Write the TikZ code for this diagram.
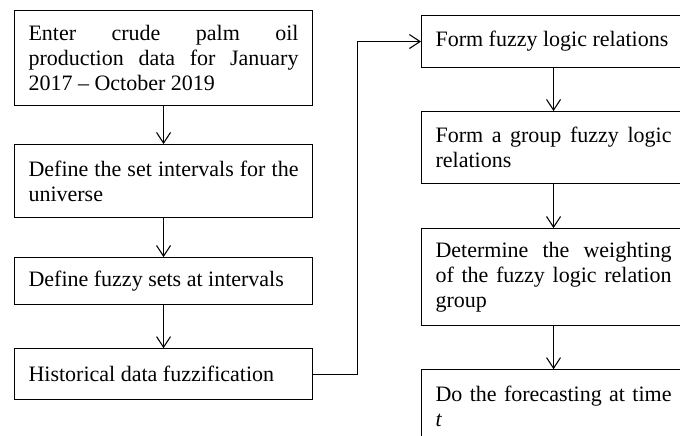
\documentclass[tikz,border=0pt]{standalone}
\usepackage{fontspec}
\setmainfont{Liberation Serif}
\usepackage{tikz}
\usetikzlibrary{arrows.meta, positioning}
\hyphenpenalty=10000
\tikzset{
  block/.style={
    rectangle, draw, line width=0.8pt, anchor=north,
    inner xsep=10.5pt, inner ysep=4pt, align=justify,
    font=\fontsize{16.5}{18.75}\selectfont
  },
  lft/.style={block, text width=202.5pt},
  rgt/.style={block, text width=177pt},
  arr/.style={-{Straight Barb[length=8pt,width=10.5pt]}, line width=0.8pt}
}
\begin{document}
\begin{tikzpicture}[node distance=29pt]
  \useasboundingbox (0,0) rectangle (510pt,-326.25pt);
  \clip (0,0) rectangle (510pt,-326.25pt);

  %% -- left column ------------------------------------------
  \node[lft, anchor=north west, minimum height=71.25pt] (entry) at (10.5pt,-7.5pt)
       {Enter crude palm oil\linebreak production data for January\linebreak 2017 -- October 2019};
  \node[lft, below=28.5pt of entry, minimum height=54.75pt] (interval)
       {Define the set intervals for the\linebreak universe};
  \node[lft, below=29.25pt of interval, minimum height=35.25pt] (fzset)
       {Define fuzzy sets at intervals};
  \node[lft, below=32.25pt of fzset, minimum height=38.25pt] (fuzzif)
       {Historical data fuzzification};

  \foreach \a/\b in {entry/interval, interval/fzset, fzset/fuzzif}
    \draw[arr] (\a) -- (\b);

  %% -- right column -----------------------------------------
  \node[rgt, anchor=north west, minimum height=39pt] (flr) at (315.75pt,-11.25pt)
       {Form fuzzy logic relations};
  \node[rgt, below=32.25pt of flr, minimum height=54pt] (flrg)
       {Form a group fuzzy logic\linebreak relations};
  \node[rgt, below=33pt of flrg, minimum height=72.75pt] (weight)
       {Determine the weighting\linebreak of the fuzzy logic relation\linebreak group};
  \node[rgt, below=32.25pt of weight, minimum height=54.75pt] (forecast)
       {Do the forecasting at time\linebreak \textit{t}};

  \foreach \a/\b in {flr/flrg, flrg/weight, weight/forecast}
    \draw[arr] (\a) -- (\b);

  %% link between the columns
  \draw[arr] (fuzzif.east) -- ++(33pt,0) |- (flr.west);

\end{tikzpicture}
\end{document}
